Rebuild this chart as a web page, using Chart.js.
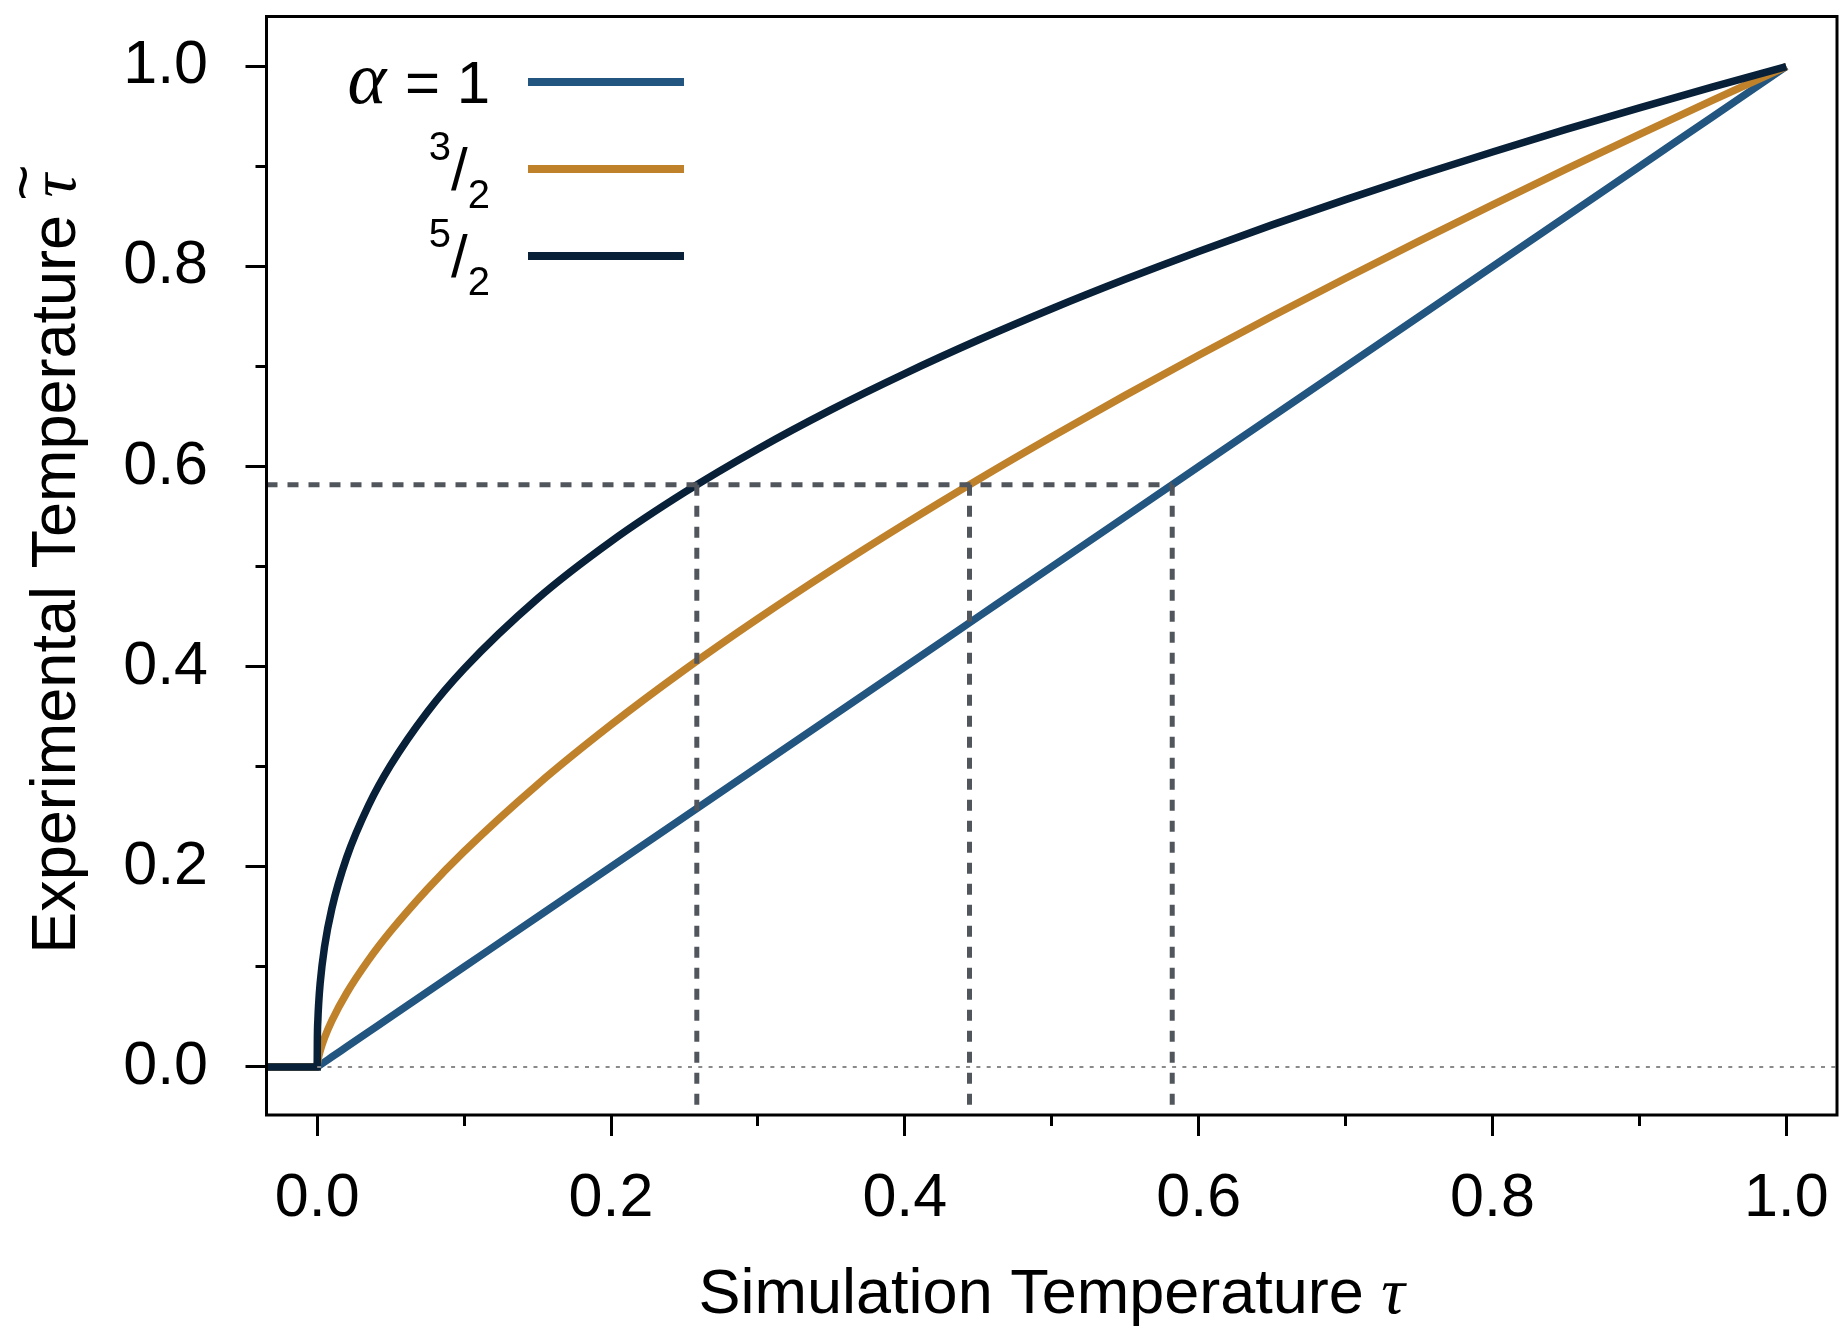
<!DOCTYPE html>
<html>
<head>
<meta charset="utf-8">
<script src="https://cdn.jsdelivr.net/npm/chart.js@4.4.1/dist/chart.umd.min.js"></script>
<style>
  html, body { margin: 0; padding: 0; background: #fff; }
  canvas { display: block; }
</style>
</head>
<body>
<canvas id="tempChart" width="1842" height="1330"></canvas>
<script>
// simulation temperature samples, shared by the three curves
const tauSim = [-0.04, 0, 0.0001, 0.0005, 0.001, 0.002, 0.005, 0.01, 0.02, 0.035, 0.05, 0.075,
  0.1, 0.15, 0.2, 0.25, 0.3, 0.35, 0.4, 0.45, 0.5, 0.55, 0.6, 0.65, 0.7, 0.75, 0.8, 0.85, 0.9, 0.95, 1.0];

// experimental temperature for alpha = 1, 3/2, 5/2
const tauAlpha1 = [0, 0, 0.0001, 0.0005, 0.001, 0.002, 0.005, 0.01, 0.02, 0.035, 0.05, 0.075,
  0.1, 0.15, 0.2, 0.25, 0.3, 0.35, 0.4, 0.45, 0.5, 0.55, 0.6, 0.65, 0.7, 0.75, 0.8, 0.85, 0.9, 0.95, 1.0];
const tauAlpha32 = [0, 0, 0.0022, 0.0063, 0.0100, 0.0159, 0.0292, 0.0464, 0.0737, 0.1070, 0.1357, 0.1778,
  0.2154, 0.2823, 0.3420, 0.3969, 0.4481, 0.4966, 0.5429, 0.5873, 0.6300, 0.6713, 0.7114, 0.7504,
  0.7884, 0.8255, 0.8618, 0.8974, 0.9322, 0.9664, 1.0];
const tauAlpha52 = [0, 0, 0.0251, 0.0478, 0.0631, 0.0833, 0.1201, 0.1585, 0.2091, 0.2616, 0.3017, 0.3549,
  0.3981, 0.4682, 0.5253, 0.5743, 0.6178, 0.6571, 0.6931, 0.7266, 0.7579, 0.7873, 0.8152, 0.8417,
  0.8670, 0.8913, 0.9146, 0.9371, 0.9587, 0.9797, 1.0];

const alphaLabels = ['1', '3/2', '5/2'];
const lineColors = ['#22557f', '#c0812b', '#082139'];

// dashed guide: one experimental level and where each curve reaches it
const guideLevel = 0.582;
const guideCross = [0.2584, 0.4440, 0.5820];

const xTicks = [0, 0.1, 0.2, 0.3, 0.4, 0.5, 0.6, 0.7, 0.8, 0.9, 1.0];
const yTicks = [0, 0.1, 0.2, 0.3, 0.4, 0.5, 0.6, 0.7, 0.8, 0.9, 1.0];
const xRange = [-0.0345, 1.0345];
const yRange = [-0.048, 1.05];

const SANS = '"Liberation Sans", Arial, sans-serif';
const SERIF = '"Liberation Serif", "DejaVu Serif", serif';
const isMajor = v => Math.round(v * 10) % 2 === 0;

const curve = (ys, color, order) => ({
  data: tauSim.map((x, i) => ({x: x, y: ys[i]})),
  borderColor: color, borderWidth: 7.5, pointRadius: 0,
  cubicInterpolationMode: 'monotone', fill: false, clip: 0, order: order
});

const guide = (pts, dotted) => ({
  data: pts,
  borderColor: dotted ? '#8a8a8a' : '#51555c',
  borderWidth: dotted ? 2 : 5,
  borderDash: dotted ? [4, 6.3] : [11, 10],
  pointRadius: 0, tension: 0, fill: false, clip: 0, order: -1
});

const datasets = [
  curve(tauAlpha52, lineColors[2], 0),
  curve(tauAlpha32, lineColors[1], 1),
  curve(tauAlpha1, lineColors[0], 2),
  guide([{x: 0, y: 0}, {x: xRange[1], y: 0}], true),
  guide([{x: xRange[0], y: guideLevel}, {x: guideCross[2], y: guideLevel}], false)
];
guideCross.forEach(c => datasets.push(guide([{x: c, y: guideLevel}, {x: c, y: yRange[0]}], false)));

// black box round the plot area
const framePlugin = {
  id: 'frame',
  afterDraw(chart) {
    const {ctx, chartArea: a} = chart;
    ctx.save();
    ctx.strokeStyle = '#000';
    ctx.lineWidth = 3;
    ctx.strokeRect(a.left, a.top, a.right - a.left, a.bottom - a.top);
    ctx.restore();
  }
};

// "words τ" with the symbol in italic serif, optionally with a tilde over it
function drawTitle(ctx, words, cx, baseline, tilde) {
  ctx.font = '63px ' + SANS;
  const w1 = ctx.measureText(words).width;
  ctx.font = 'italic 66px ' + SERIF;
  const w2 = ctx.measureText('τ').width;
  const x = cx - (w1 + w2) / 2;
  ctx.textAlign = 'left';
  ctx.font = '63px ' + SANS;
  ctx.fillText(words, x, baseline);
  ctx.font = 'italic 66px ' + SERIF;
  ctx.fillText('τ', x + w1, baseline);
  if (tilde) {
    ctx.textAlign = 'center';
    ctx.font = '62px ' + SANS;
    ctx.fillText('~', x + w1 + w2 / 2 + 3, baseline - 31);
  }
}

const titlesPlugin = {
  id: 'axisTitles',
  afterDraw(chart) {
    const {ctx, chartArea: a} = chart;
    ctx.save();
    ctx.fillStyle = '#000';
    ctx.textBaseline = 'alphabetic';
    drawTitle(ctx, 'Simulation Temperature ', (a.left + a.right) / 2, 1313, false);
    ctx.translate(75, (a.top + a.bottom) / 2 - 2);
    ctx.rotate(-Math.PI / 2);
    drawTitle(ctx, 'Experimental Temperature ', 0, 0, true);
    ctx.restore();
  }
};

// legend: alpha values with fractions set as super/subscript
const legendPlugin = {
  id: 'alphaLegend',
  afterDraw(chart) {
    const {ctx, chartArea: a} = chart;
    const right = a.left + 223.5;
    const x0 = a.left + 261.5, x1 = a.left + 417.5;
    ctx.save();
    alphaLabels.forEach((lab, i) => {
      const y = a.top + 65.5 + i * 87;
      ctx.strokeStyle = lineColors[i];
      ctx.lineWidth = 8;
      ctx.beginPath();
      ctx.moveTo(x0, y);
      ctx.lineTo(x1, y);
      ctx.stroke();

      ctx.fillStyle = '#000';
      ctx.textAlign = 'right';
      ctx.textBaseline = 'alphabetic';
      if (lab.includes('/')) {
        const [num, den] = lab.split('/');
        ctx.font = '40px ' + SANS;
        ctx.fillText(den, right, y + 39);
        let x = right - ctx.measureText(den).width;
        ctx.font = '60px ' + SANS;
        ctx.fillText('/', x, y + 21);
        x -= ctx.measureText('/').width;
        ctx.font = '40px ' + SANS;
        ctx.fillText(num, x, y - 9);
      } else {
        const rest = ' = ' + lab;
        ctx.font = '60px ' + SANS;
        ctx.fillText(rest, right, y + 21);
        const x = right - ctx.measureText(rest).width;
        ctx.font = 'italic 74px ' + SERIF;
        ctx.fillText('α', x - 2, y + 21);
      }
    });
    ctx.restore();
  }
};

// major ticks 21px, minor ticks 11px against the frame; the y ticks are
// stroked from the outside in, so their dash starts with the gap
const tickGrid = inward => ({
  drawOnChartArea: false,
  drawTicks: true,
  tickLength: 21,
  tickWidth: 3,
  tickColor: '#000',
  tickBorderDash: c => isMajor(c.tick.value) ? [] : [11, 60],
  tickBorderDashOffset: c => (inward && !isMajor(c.tick.value)) ? 61 : 0
});

new Chart(document.getElementById('tempChart').getContext('2d'), {
  type: 'line',
  data: {datasets: datasets},
  options: {
    responsive: false,
    animation: false,
    devicePixelRatio: 1,
    layout: {padding: {top: 16.5, right: 5, left: 0, bottom: 0}},
    plugins: {legend: {display: false}, tooltip: {enabled: false}},
    scales: {
      x: {
        type: 'linear', min: xRange[0], max: xRange[1],
        afterBuildTicks: s => { s.ticks = xTicks.map(v => ({value: v})); },
        afterFit: s => { s.height = 215; s.paddingLeft = 0; s.paddingRight = 0; },
        ticks: {
          callback: v => isMajor(v) ? v.toFixed(1) : '',
          font: {family: SANS, size: 61}, color: '#000',
          padding: 27, maxRotation: 0, autoSkip: false
        },
        grid: tickGrid(false),
        border: {display: false}
      },
      y: {
        type: 'linear', min: yRange[0], max: yRange[1],
        afterBuildTicks: s => { s.ticks = yTicks.map(v => ({value: v})); },
        afterFit: s => { s.width = 266.5; s.paddingTop = 0; s.paddingBottom = 0; },
        ticks: {
          callback: v => isMajor(v) ? v.toFixed(1) : '',
          font: {family: SANS, size: 61}, color: '#000',
          padding: 37.5, autoSkip: false
        },
        grid: tickGrid(true),
        border: {display: false}
      }
    }
  },
  plugins: [framePlugin, titlesPlugin, legendPlugin]
});
</script>
</body>
</html>
